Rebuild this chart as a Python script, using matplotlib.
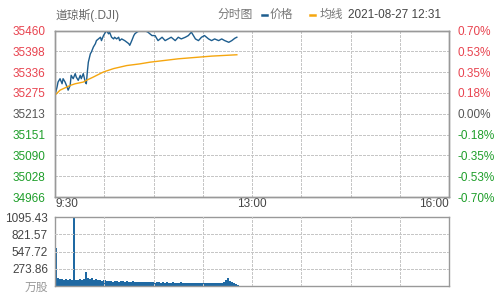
import matplotlib.pyplot as plt
from matplotlib.lines import Line2D

plt.rcParams['font.family'] = ['Liberation Sans', 'Noto Sans CJK SC', 'DejaVu Sans']

# minutes since 9:30 and index value
price_min = [0, 2, 3, 5, 7, 8, 10, 12, 13, 15, 16, 18, 20, 21, 23, 25, 26, 28, 30, 31,
             32, 33, 35, 36, 38, 40, 41, 43, 45, 46, 48, 49, 51, 53, 54, 56, 58, 59, 61, 63,
             64, 66, 69, 73, 74, 76, 78, 79, 81, 84, 87, 90, 92, 96, 99, 102, 106, 109, 112, 115,
             119, 122, 125, 129, 132, 135, 139, 142, 145, 148, 152, 155, 158, 162, 165, 168, 172, 175, 178, 180]
price_val = [35268, 35292, 35307, 35317, 35302, 35317, 35307, 35292, 35283, 35297, 35327, 35317, 35332, 35322, 35312, 35327, 35317, 35332, 35307, 35302,
             35337, 35366, 35391, 35396, 35411, 35421, 35430, 35435, 35440, 35430, 35445, 35450, 35460, 35450, 35455, 35440, 35435, 35440, 35435, 35440,
             35430, 35435, 35430, 35421, 35416, 35430, 35445, 35450, 35455, 35460, 35460, 35458, 35455, 35445, 35445, 35430, 35440, 35430, 35435, 35440,
             35430, 35440, 35435, 35440, 35445, 35455, 35435, 35430, 35440, 35445, 35435, 35430, 35435, 35430, 35435, 35430, 35425, 35430, 35437, 35440]

avg_min = [0, 5, 10, 15, 20, 28, 31, 38, 48, 58, 71, 84, 94, 122, 155, 180]
avg_val = [35268, 35283, 35290, 35297, 35302, 35307, 35312, 35322, 35337, 35347, 35356, 35361, 35366, 35376, 35384, 35388]

vol_min = list(range(0, 182, 2))
vol_val = [600, 130, 110, 115, 100, 110, 95, 105, 100, 1200, 100, 95, 110, 100, 105, 230, 130, 110, 120, 100,
           115, 95, 100, 85, 90, 80, 75, 85, 70, 80, 75, 70, 80, 72, 68, 75, 70, 65, 72, 68,
           62, 70, 65, 60, 68, 62, 58, 66, 60, 55, 62, 58, 55, 60, 52, 58, 55, 50, 57, 52,
           55, 50, 56, 52, 48, 55, 50, 53, 48, 52, 55, 50, 47, 55, 52, 48, 55, 50, 53, 48,
           52, 55, 50, 60, 95, 120, 80, 60, 45, 30, 20]

price_ticks = [34966, 35028, 35090, 35151, 35213, 35275, 35336, 35398, 35460]
pct_labels = ['-0.70%', '-0.53%', '-0.35%', '-0.18%', '0.00%', '0.18%', '0.35%', '0.53%', '0.70%']
vol_ticks = [0, 273.86, 547.72, 821.57, 1095.43]
vol_labels = ['万股', '273.86', '547.72', '821.57', '1095.43']
x_labels = ['9:30', '13:00', '16:00']
x_grid = [48.75, 97.5, 146.25, 195, 243.75, 292.5, 341.25]

RED = '#e8434f'
GREEN = '#1e9e2a'
GRAY = '#555555'
BLUE = '#1d5d8e'
ORANGE = '#f5a60f'
GRID = '#c6c6c6'
SPINE = '#999999'

fig = plt.figure(figsize=(4.98, 3.06), dpi=100)
ax = fig.add_axes([55/498, 1-197/306, 394/498, 166.5/306])
axv = fig.add_axes([55/498, 1-286/306, 394/498, 68.7/306])

def label_color(i):
    if i > 4:
        return RED
    if i < 4:
        return GREEN
    return GRAY

grid_kw = dict(color=GRID, lw=0.75, ls=(0, (2.5, 1.5)), antialiased=False)

# main price panel
ax.set_xlim(0, 390)
ax.set_ylim(price_ticks[0], price_ticks[-1])
for gx in x_grid:
    ax.plot([gx, gx], [price_ticks[0], price_ticks[-1]], zorder=1, **grid_kw)
for gy in price_ticks[1:-1]:
    ax.plot([0, 390], [gy, gy], zorder=1, **grid_kw)
ax.plot(price_min, price_val, color=BLUE, lw=1.0, zorder=3)
ax.plot(avg_min, avg_val, color=ORANGE, lw=1.0, zorder=3)
ax.set_yticks(price_ticks)
ax.set_yticklabels([str(v) for v in price_ticks])
for i, t in enumerate(ax.get_yticklabels()):
    t.set_color(label_color(i))
ax.set_xticks([0, 195, 390])
ax.set_xticklabels(x_labels)
ha = ['left', 'center', 'right']
for i, t in enumerate(ax.get_xticklabels()):
    t.set_ha(ha[i])
ax.tick_params(axis='y', length=0, pad=7, labelsize=8.5)
ax.tick_params(axis='x', length=0, pad=1, labelsize=8.5, labelcolor='#444444')

axr = ax.twinx()
axr.set_ylim(price_ticks[0], price_ticks[-1])
axr.set_yticks(price_ticks)
axr.set_yticklabels(pct_labels)
for i, t in enumerate(axr.get_yticklabels()):
    t.set_color(label_color(i))
axr.tick_params(axis='y', length=0, pad=6, labelsize=8.5)

for a in (ax, axr, axv):
    for s in a.spines.values():
        s.set_color(SPINE)
        s.set_linewidth(1.0)

# volume panel
axv.set_xlim(0, 390)
axv.set_ylim(0, vol_ticks[-1])
axv.bar(vol_min, vol_val, width=2, align='edge', color='#1f69a3', lw=0, zorder=2)
for gx in x_grid:
    axv.plot([gx, gx], [0, vol_ticks[-1]], zorder=3, **grid_kw)
for gy in vol_ticks[1:-1]:
    axv.plot([0, 390], [gy, gy], zorder=3, **grid_kw)
axv.set_yticks(vol_ticks)
axv.set_yticklabels(vol_labels)
for i, t in enumerate(axv.get_yticklabels()):
    t.set_color('#999999' if i == 0 else '#444444')
axv.set_xticks([])
axv.tick_params(axis='y', length=0, pad=5, labelsize=8.5)

# header
ty = 1 - 15/306
fig.text(55/498, ty, '道琼斯(.DJI)', fontsize=8.5, color='#666666', va='center')
fig.text(217/498, ty, '分时图', fontsize=8.5, color='#777777', va='center')
fig.add_artist(Line2D([262/498, 267/498], [ty, ty], color=BLUE, lw=1.8))
fig.text(270/498, ty, '价格', fontsize=8.5, color='#777777', va='center')
fig.add_artist(Line2D([310/498, 315/498], [ty, ty], color=ORANGE, lw=1.8))
fig.text(320/498, ty, '均线', fontsize=8.5, color='#777777', va='center')
fig.text(348/498, ty, '2021-08-27 12:31', fontsize=8.5, color='#444444', va='center')

fig.savefig('out.png', dpi=100)
